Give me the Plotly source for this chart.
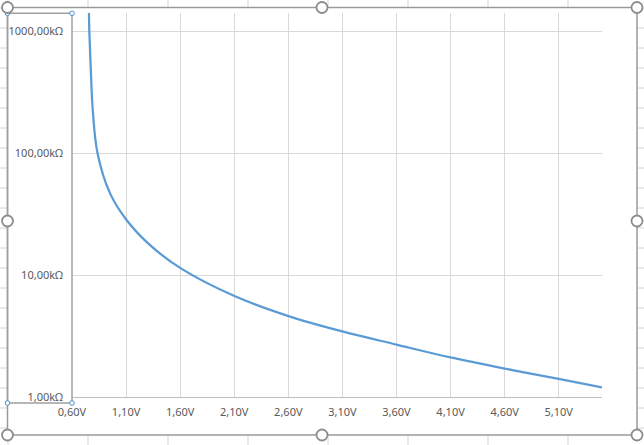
import plotly.graph_objects as go

# voltage (V) vs resistance (kOhm)
volts = [0.757, 0.760, 0.773, 0.792, 0.836, 0.952, 1.106,
         1.322, 1.603, 2.102, 2.602, 3.10, 3.60, 4.10, 4.60, 5.10, 5.50]
kohm = [1410, 1000, 513, 225, 100, 46.8, 28.2,
        17.6, 11.4, 6.73, 4.61, 3.45, 2.69, 2.11, 1.71, 1.41, 1.20]

x_tickvals = [0.6, 1.1, 1.6, 2.1, 2.6, 3.1, 3.6, 4.1, 4.6, 5.1]
x_ticktext = ["0,60V", "1,10V", "1,60V", "2,10V", "2,60V",
              "3,10V", "3,60V", "4,10V", "4,60V", "5,10V"]
y_tickvals = [1, 10, 100, 1000]
y_ticktext = ["1,00kΩ", "10,00kΩ", "100,00kΩ", "1000,00kΩ"]

W, H = 644, 445
L, R, T, B = 72, 602, 13, 397


# pixel -> paper helpers for the Excel "chrome" (frame, handles, cell grid)
def px(x):
    return (x - L) / (R - L)


def py(y):
    return (B - y) / (B - T)


shapes = []

# spreadsheet cell gridlines behind the chart object
for cx in range(8, W + 1, 80):
    shapes.append(dict(type="line", xref="paper", yref="paper", layer="below",
                       x0=px(cx), x1=px(cx), y0=py(0), y1=py(H),
                       line=dict(color="#d4d4d4", width=1)))
for cy in range(8, H + 1, 20):
    shapes.append(dict(type="line", xref="paper", yref="paper", layer="below",
                       x0=px(0), x1=px(W), y0=py(cy), y1=py(cy),
                       line=dict(color="#d4d4d4", width=1)))

# chart area (white) + frame
shapes.append(dict(type="rect", xref="paper", yref="paper", layer="below",
                   x0=px(7.5), x1=px(637), y0=py(7.5), y1=py(435),
                   fillcolor="white", line=dict(color="#9a9a9a", width=1.5)))

# selected value-axis box
shapes.append(dict(type="rect", xref="paper", yref="paper", layer="above",
                   x0=px(7.5), x1=px(72), y0=py(13.3), y1=py(403),
                   line=dict(color="#a0a0a0", width=1.5)))
for hx, hy in [(7.5, 13.3), (72, 13.3), (7.5, 403), (72, 403)]:
    r = 2.3
    shapes.append(dict(type="circle", xref="paper", yref="paper", layer="above",
                       x0=px(hx - r), x1=px(hx + r), y0=py(hy - r), y1=py(hy + r),
                       fillcolor="white", line=dict(color="#4a90d9", width=1)))

# chart object sizing handles
for hx, hy in [(7.5, 7.5), (322, 7.5), (637, 7.5), (7.5, 221), (637, 221),
               (7.5, 435), (322, 435), (637, 435)]:
    r = 5.5
    shapes.append(dict(type="circle", xref="paper", yref="paper", layer="above",
                       x0=px(hx - r), x1=px(hx + r), y0=py(hy - r), y1=py(hy + r),
                       fillcolor="white", line=dict(color="#8c8c8c", width=1.8)))

fig = go.Figure()
fig.add_trace(go.Scatter(
    x=volts, y=kohm, mode="lines",
    line=dict(color="#5b9bd5", width=2.25, shape="spline", smoothing=1.0),
    showlegend=False, hoverinfo="skip",
))

font = dict(family="Noto Sans, Open Sans, sans-serif", size=11, color="#595959")

fig.update_xaxes(
    range=[0.6, 5.5], tickvals=x_tickvals, ticktext=x_ticktext,
    showgrid=True, gridcolor="#d9d9d9", gridwidth=1,
    showline=True, linecolor="#bfbfbf", linewidth=1,
    zeroline=False, ticks="", tickfont=font, ticklabelstandoff=5,
    automargin=False,
)
fig.update_yaxes(
    type="log", range=[0, 3.15], tickvals=y_tickvals, ticktext=y_ticktext,
    showgrid=True, gridcolor="#d9d9d9", gridwidth=1,
    showline=False, zeroline=False, ticks="", tickfont=font,
    ticklabelstandoff=8, automargin=False,
)

fig.update_layout(
    width=W, height=H,
    margin=dict(l=L, r=W - R, t=T, b=H - B, pad=0, autoexpand=False),
    paper_bgcolor="white", plot_bgcolor="rgba(0,0,0,0)",
    shapes=shapes,
)

# drop the default 8px page margin so the figure sits at the window origin
fig.write_html("out.html", config={"displayModeBar": False},
               post_script="document.body.style.margin='0';")
